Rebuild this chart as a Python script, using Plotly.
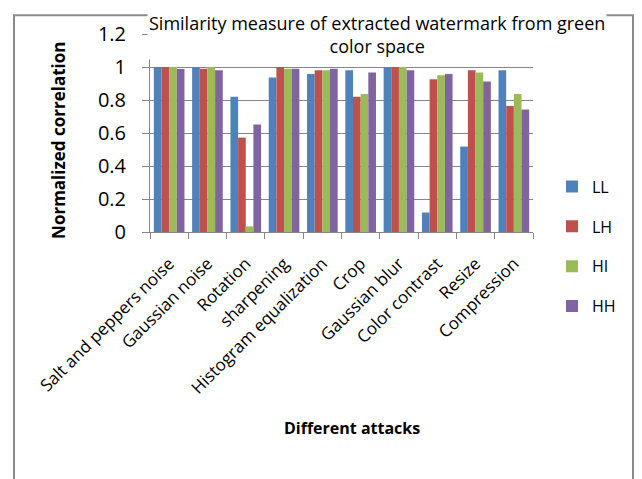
import plotly.graph_objects as go

categories = ["Salt and peppers noise", "Gaussian noise", "Rotation", "sharpening",
              "Histogram equalization", "Crop", "Gaussian blur", "Color contrast",
              "Resize", "Compression"]
LL = [1.00, 1.00, 0.82, 0.936, 0.958, 0.98, 1.00, 0.118, 0.518, 0.98]
LH = [1.00, 0.99, 0.572, 1.00, 0.98, 0.82, 1.00, 0.926, 0.98, 0.764]
HI = [1.00, 1.00, 0.034, 0.99, 0.98, 0.836, 1.00, 0.95, 0.966, 0.836]
HH = [0.988, 0.98, 0.652, 0.99, 0.99, 0.966, 0.98, 0.958, 0.912, 0.742]
series_names = ["LL", "LH", "HI", "HH"]
series_values = [LL, LH, HI, HH]
colors = ["#4F81BD", "#C0504D", "#9BBB59", "#8064A2"]
y_ticks = [0, 0.2, 0.4, 0.6, 0.8, 1, 1.2]
y_ticklabels = ["0", "0.2", "0.4", "0.6", "0.8", "1", "1.2"]

FONT = "Open Sans"
GRID = "#868686"

# figure is offset by the page's 8px body margin
W, H = 634, 471
L, R, T, B = 142, 109, 24, 247
PW, PH = W - L - R, H - T - B


def px(x):  # figure px -> paper x
    return (x - L) / PW


def py(y):  # figure px -> paper y
    return (H - B - y) / PH


fig = go.Figure()
for name, vals, col in zip(series_names, series_values, colors):
    fig.add_trace(go.Bar(x=categories, y=vals, name=name, marker_color=col,
                         marker_line_width=0, legendgroup=name))

fig.update_layout(
    width=W, height=H,
    margin=dict(l=L, r=R, t=T, b=B, pad=0),
    paper_bgcolor="white", plot_bgcolor="white",
    barmode="group", bargap=0.2, bargroupgap=0,
    font=dict(family=FONT, color="black"),
    showlegend=True,
    legend=dict(x=px(544), y=py(161), xanchor="left", yanchor="top",
                font=dict(size=16, family=FONT, color="black"),
                tracegroupgap=16, itemwidth=30, bgcolor="rgba(0,0,0,0)"),
    xaxis=dict(
        tickangle=-45, tickfont=dict(size=17, family=FONT),
        showline=True, linecolor=GRID, linewidth=1,
        ticks="outside", ticklen=6, tickcolor=GRID,
        tickson="boundaries", showgrid=False, ticklabelstandoff=14,
    ),
    yaxis=dict(
        range=[0, 1.2], tickvals=y_ticks, ticktext=y_ticklabels,
        tickfont=dict(size=20, family=FONT),
        showline=True, linecolor=GRID, linewidth=1,
        ticks="outside", ticklen=7, tickcolor=GRID,
        showgrid=True, gridcolor=GRID, gridwidth=1,
        zeroline=False, ticklabelstandoff=12,
    ),
)

fig.add_annotation(
    text="Similarity measure of extracted watermark from green<br>color space",
    xref="paper", yref="paper", x=px(369), y=py(25), xanchor="center", yanchor="middle",
    showarrow=False, font=dict(size=18, family=FONT, color="black"),
    bgcolor="white",
)
fig.add_annotation(
    text="<b>Normalized correlation</b>", textangle=-90,
    xref="paper", yref="paper", x=px(51), y=py(132), xanchor="center", yanchor="middle",
    showarrow=False, font=dict(size=17, family=FONT, color="black"),
)
fig.add_annotation(
    text="<b>Different attacks</b>",
    xref="paper", yref="paper", x=px(344), y=py(422), xanchor="center", yanchor="middle",
    showarrow=False, font=dict(size=16, family=FONT, color="black"),
)

# outer frame
fig.add_shape(type="rect", xref="paper", yref="paper",
              x0=px(6), x1=px(625), y0=py(490), y1=py(5),
              line=dict(color="#8a8a8a", width=2), fillcolor="rgba(0,0,0,0)", layer="below")

fig.write_html("out.html")
